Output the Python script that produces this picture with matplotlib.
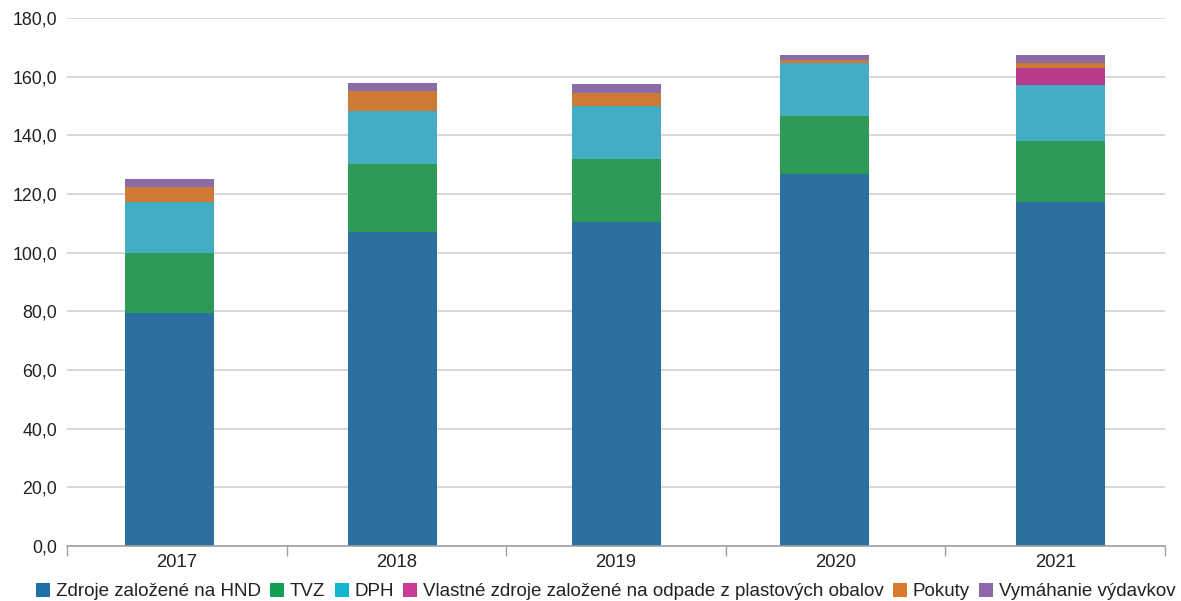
import matplotlib
matplotlib.use("Agg")
import numpy as np
from matplotlib import pyplot as plt
from matplotlib.patches import Patch
from matplotlib.ticker import FuncFormatter

plt.rcParams['font.family'] = ['Liberation Sans', 'DejaVu Sans']

years = ["2017", "2018", "2019", "2020", "2021"]
labels = ["Zdroje založené na HND", "TVZ", "DPH",
          "Vlastné zdroje založené na odpade z plastových obalov", "Pokuty", "Vymáhanie výdavkov"]
hnd = [79.3, 107.0, 110.3, 126.9, 117.4]
tvz = [20.7, 23.2, 21.6, 19.8, 20.8]
dph = [17.4, 18.2, 18.2, 18.0, 19.0]
plast = [0.0, 0.0, 0.0, 0.0, 5.9]
pokuty = [5.0, 6.8, 4.2, 1.0, 1.7]
vymahanie = [2.7, 2.5, 3.3, 1.7, 2.5]
series = [hnd, tvz, dph, plast, pokuty, vymahanie]

bar_colors = ["#2a6f9e", "#2e9a57", "#43adc4", "#b93a8c", "#cd7a36", "#8b6aa5"]
legend_colors = ["#1f6fa8", "#13a052", "#12b6d0", "#c83c96", "#d97b2e", "#8e67aa"]

# the original bars sit slightly off the category centres
bar_shift = [-0.035, -0.018, 0.004, -0.05, 0.022]

fig = plt.figure(figsize=(11.81, 6.01), dpi=100)
ax = fig.add_axes([67 / 1181, 1 - 546 / 601, 1098 / 1181, 528 / 601])

x = np.arange(len(years))
xb = x + np.array(bar_shift)
bottom = np.zeros(len(years))
for vals, c in zip(series, bar_colors):
    ax.bar(xb, vals, width=0.405, bottom=bottom, color=c, zorder=3)
    bottom += np.array(vals)

ax.set_xlim(-0.5, 4.5)
ax.set_ylim(0, 180)
ax.set_yticks(np.arange(0, 181, 20))
ax.yaxis.set_major_formatter(FuncFormatter(lambda v, p: f"{v:.1f}".replace(".", ",")))
ax.grid(axis='y', color='#d4d4d4', linewidth=1.3, zorder=0)
ax.tick_params(axis='y', length=0, labelsize=12.8, colors='#222222', pad=7)

ax.set_xticks(x)
ax.set_xticklabels(years)
ax.tick_params(axis='x', which='major', length=0, labelsize=13.3, colors='#222222', pad=6)
ax.set_xticks(np.arange(-0.5, 4.6, 1), minor=True)
ax.tick_params(axis='x', which='minor', length=7, color='#a0a0a0', width=1)

for s in ['top', 'right', 'left']:
    ax.spines[s].set_visible(False)
ax.spines['bottom'].set_color('#a0a0a0')
ax.spines['bottom'].set_linewidth(1.2)
ax.spines['bottom'].set_zorder(4)

handles = [Patch(facecolor=c, label=l) for c, l in zip(legend_colors, labels)]
fig.legend(handles=handles, loc='lower center', bbox_to_anchor=(0.513, -0.027), ncol=6,
           frameon=False, fontsize=13.5, handlelength=0.75, handleheight=0.75,
           handletextpad=0.3, columnspacing=0.5, labelcolor='#222222')

fig.savefig("out.png", dpi=100)
